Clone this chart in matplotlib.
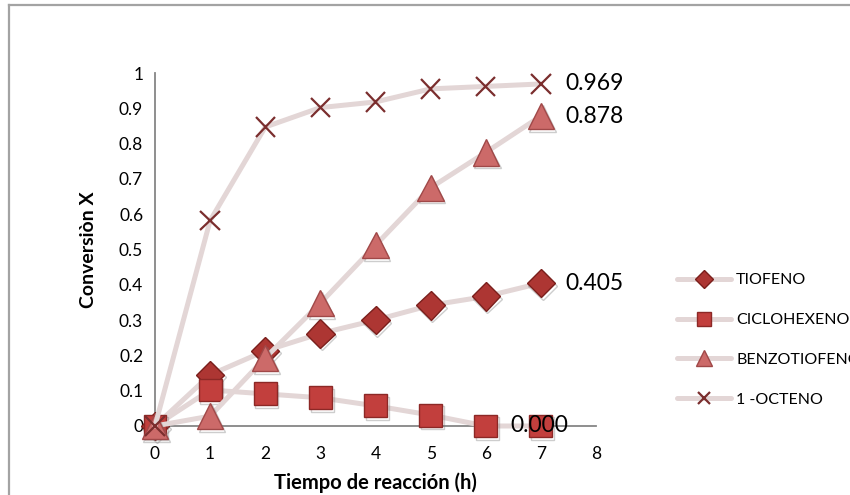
import numpy as np
import matplotlib
matplotlib.use('Agg')
import matplotlib.pyplot as plt
import matplotlib.patheffects as pe
from matplotlib.lines import Line2D

# reaction time [h]
tiempo = [0, 1, 2, 3, 4, 5, 6, 7]

# conversion of each compound
tiofeno      = [0.0, 0.145, 0.213, 0.262, 0.300, 0.342, 0.367, 0.405]
ciclohexeno  = [0.0, 0.102, 0.091, 0.080, 0.057, 0.031, 0.0, 0.0]
benzotiofeno = [0.0, 0.028, 0.193, 0.348, 0.512, 0.675, 0.775, 0.878]
octeno       = [0.0, 0.582, 0.847, 0.902, 0.918, 0.955, 0.962, 0.969]

nombres = ['TIOFENO', 'CICLOHEXENO', 'BENZOTIOFENO', '1 -OCTENO']

xticks = [0, 1, 2, 3, 4, 5, 6, 7, 8]
yticks = [0, 0.1, 0.2, 0.3, 0.4, 0.5, 0.6, 0.7, 0.8, 0.9, 1]

plt.rcParams['font.family'] = ['Lato', 'DejaVu Sans']

LINECLR = '#e3d6d6'

# marker, size, face, edge, edge width
estilos = [
    ('D', 14.5, '#ad3633', '#7a1f1c', 1.0),
    ('s', 16.5, '#c23f3d', '#8c2826', 1.0),
    ('^', 19.0, '#cc6a69', '#a04848', 1.0),
    ('x', 14.0, '#7b2e2e', '#7b2e2e', 1.6),
]

# offset of the end labels, in points
offsets = [17.5, -22.0, 17.5, 17.5]


def plot_serie(ax, x, y, est, iz):
    mk, ms, fc, ec, mew = est
    ax.plot(x, y, '-', color=LINECLR, lw=3.6, solid_capstyle='round',
            zorder=2 + 2 * iz, clip_on=False)
    sh = [pe.SimpleLineShadow(offset=(1.2, -1.8), shadow_color='#707070', alpha=0.35),
          pe.Normal()]
    if mk == 'x':
        sh = [pe.Normal()]
    ax.plot(x, y, linestyle='none', marker=mk, ms=ms, mfc=fc, mec=ec, mew=mew,
            zorder=3 + 2 * iz, clip_on=False, path_effects=sh)


def main():
    fig = plt.figure(figsize=(8.5, 4.95), dpi=100)
    ax = fig.add_axes([155 / 850, 1 - 426 / 495, 441 / 850, 353 / 495])

    series = [tiofeno, ciclohexeno, benzotiofeno, octeno]
    for iz, serie in enumerate(series):
        plot_serie(ax, tiempo, serie, estilos[iz], iz)
        ax.annotate('{:.3f}'.format(serie[-1]), (tiempo[-1], serie[-1]),
                    xytext=(offsets[iz], 0), textcoords='offset points',
                    ha='left', va='center', fontsize=16.5, zorder=20)

    ax.set_xlim(0, 8)
    ax.set_ylim(0, 1)
    ax.set_xticks(xticks)
    ax.set_yticks(yticks)
    ax.set_yticklabels(['{:g}'.format(v) for v in yticks])
    ax.tick_params(length=0, labelsize=12.5)
    ax.tick_params('y', pad=8.5)
    ax.tick_params('x', pad=14.5)

    for s in ['top', 'right']:
        ax.spines[s].set_visible(False)
    for s in ['left', 'bottom']:
        ax.spines[s].set_color('#868686')
        ax.spines[s].set_linewidth(1.3)

    fig.text(375 / 850, 1 - 483 / 495, 'Tiempo de reacción (h)', ha='center', va='center',
             fontsize=14.5, fontweight='bold')
    fig.text(89 / 850, 1 - 250 / 495, 'Conversiòn X', ha='center', va='center',
             rotation=90, fontsize=14, fontweight='bold')

    # legend
    hnd = []
    for iz, nom in enumerate(nombres):
        mk, ms, fc, ec, mew = estilos[iz]
        hnd.append(Line2D([], [], color=LINECLR, lw=3.6, solid_capstyle='round',
                          marker=mk, ms=ms, mfc=fc, mec=ec, mew=mew))
    fig.legend(handles=hnd, labels=nombres, loc='center left',
               bbox_to_anchor=(677 / 850, 1 - 340 / 495), frameon=False,
               fontsize=11.5, markerscale=0.6, handlelength=3.4, handletextpad=0.3,
               labelspacing=1.6, borderpad=0, borderaxespad=0)

    # outer chart frame
    fig.add_artist(Line2D([9 / 850, 9 / 850], [-0.01, 1 - 5 / 495], color='#a3a3a3', lw=1.6))
    fig.add_artist(Line2D([9 / 850, 1.01], [1 - 5 / 495, 1 - 5 / 495], color='#a3a3a3', lw=1.6))

    fig.savefig('out.png', dpi=100)


if __name__ == "__main__":
    main()
